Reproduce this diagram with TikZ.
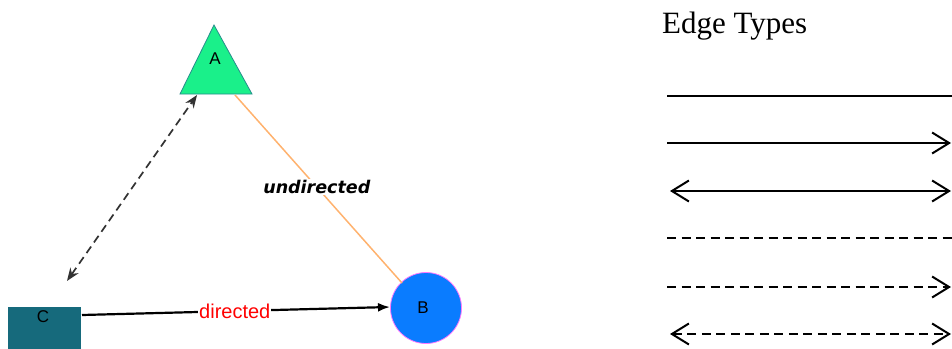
\documentclass[tikz,border=0pt]{standalone}
\usepackage{fontspec}
\setmainfont{Liberation Serif}
\newfontfamily\dvsans{DejaVu Sans}
\newfontfamily\lsans{Liberation Sans}
\usetikzlibrary{arrows.meta}
\definecolor{triA}{RGB}{26,240,138}
\definecolor{triEdge}{RGB}{40,140,140}
\definecolor{sqC}{RGB}{22,106,124}
\definecolor{cirB}{RGB}{10,124,255}
\definecolor{pinkB}{RGB}{255,120,255}
\definecolor{orangeE}{RGB}{255,178,110}
\tikzset{
  vlabel/.style={font=\lsans\fontsize{17}{18}\selectfont, text=black, inner sep=0pt},
  legline/.style={line width=2pt, line cap=butt},
  legtip/.tip={Straight Barb[length=17pt, width=21pt, line width=2pt]},
  legdash/.style={dash pattern=on 9pt off 5.5pt},
}
\begin{document}
\begin{tikzpicture}[x=1pt,y=-1pt]
\useasboundingbox (0,0) rectangle (952,348);
\clip (0,0) rectangle (952,348);
% vertex shapes
\filldraw[fill=triA, draw=triEdge, line width=0.8pt] (214,25) -- (252,94) -- (180,94) -- cycle;
\node[vlabel] (A) at (215,59) {A};
\node[draw=pinkB, fill=cirB, circle, minimum size=71pt, inner sep=0pt, line width=0.8pt] (Bc) at (426,308) {};
\node[vlabel] (B) at (423,308) {B};
\node[fill=sqC, minimum width=73pt, minimum height=73pt, inner sep=0pt] (Cs) at (44.5,343.5) {};
\node[vlabel] (C) at (43,317) {C};
% anchor points
\coordinate (Ar) at (235,95);
\coordinate (Al) at (197,95);
\coordinate (Bl) at (390,307);
\coordinate (Bt) at (402,283);
\coordinate (Ct) at (67,281);
\coordinate (Ce) at (82,315);
% edges
\draw[orangeE, line width=1.5pt] (Ar) -- (Bt)
  node[pos=0.49, fill=white, inner sep=1pt, text=black,
       font=\dvsans\bfseries\itshape\fontsize{17.5}{18}\selectfont] (ul) {undirected};
\draw[black, line width=2.2pt, -{Latex[length=12pt, width=9pt]}] (Ce) -- (Bl)
  node[pos=0.496, fill=white, inner sep=1pt, text=red,
       font=\lsans\fontsize{20}{21}\selectfont] (dl) {directed};
\draw[black!80, line width=1.7pt, dash pattern=on 8pt off 5pt,
      {Stealth[length=13pt, width=10pt]}-{Stealth[length=13pt, width=10pt]}] (Ct) -- (Al);
% legend
\node[anchor=base west, inner sep=0pt, font=\fontsize{31}{34}\selectfont] (title) at (662,33) {Edge Types};
\coordinate (l1a) at (667,96); \coordinate (l1b) at (953,96);
\coordinate (l2a) at (667,143); \coordinate (l2b) at (951,143);
\coordinate (l3a) at (670,191); \coordinate (l3b) at (951,191);
\coordinate (l4a) at (667,238); \coordinate (l4b) at (953,238);
\coordinate (l5a) at (667,287); \coordinate (l5b) at (951,287);
\coordinate (l6a) at (670,334); \coordinate (l6b) at (951,334);
\draw[legline, line width=1.5pt] (l1a) -- (l1b);
\draw[legline, -legtip] (l2a) -- (l2b);
\draw[legline, legtip-legtip] (l3a) -- (l3b);
\draw[legline, line width=1.5pt, legdash] (l4a) -- (l4b);
\draw[legline, legdash, -legtip] (l5a) -- (l5b);
\draw[legline, legdash, legtip-legtip] (l6a) -- (l6b);
\end{tikzpicture}
\end{document}
